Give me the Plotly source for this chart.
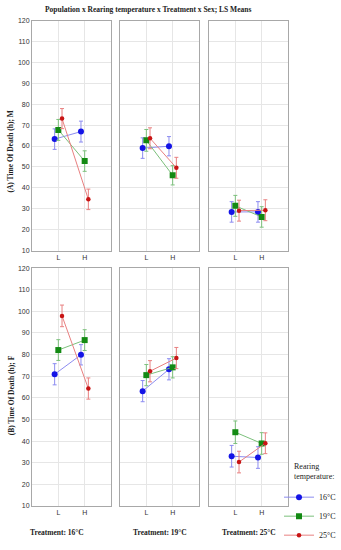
import plotly.graph_objects as go

categories = ["L", "H"]
rearing = ["16°C", "19°C", "25°C"]
treatments = ["Treatment: 16°C", "Treatment: 19°C", "Treatment: 25°C"]

# Males (A): per treatment [L, H]
male_r16 = [[63.3, 66.9], [59.0, 59.9], [28.5, 28.5]]
male_r19 = [[67.7, 52.8], [62.7, 46.0], [31.4, 26.1]]
male_r25 = [[73.1, 34.5], [63.7, 49.6], [29.1, 29.3]]
# Females (B)
female_r16 = [[70.9, 79.9], [63.1, 73.2], [33.0, 32.4]]
female_r19 = [[82.1, 86.7], [70.5, 74.1], [44.1, 38.9]]
female_r25 = [[97.9, 64.3], [72.3, 78.4], [30.3, 39.0]]
# standard errors
male_se = [[[4.9, 5.0], [4.9, 4.6], [4.9, 4.9]],
           [[5.0, 4.9], [5.2, 4.6], [5.0, 4.9]],
           [[4.8, 4.9], [5.0, 5.0], [5.0, 5.0]]]
female_se = [[[4.9, 4.7], [4.9, 4.9], [5.0, 5.0]],
             [[4.8, 4.8], [4.9, 4.9], [5.2, 5.0]],
             [[5.0, 4.9], [4.9, 4.9], [5.0, 4.8]]]

marker_colors = ["#1414e6", "#138a13", "#c81414"]
line_colors = ["#8c8cf0", "#7cc07c", "#e88080"]
symbols = ["circle", "square", "circle"]
sizes = [6, 6, 4.5]
offsets = [-0.14, 0.0, 0.14]

W, H = 341, 550
panel_x = [(32, 111), (120, 199), (209, 288)]
row_y = [(17, 254), (272, 517)]


def px(x):
    return x / W


def py(y):
    return 1 - y / H


fig = go.Figure()
layout = dict(width=W, height=H, margin=dict(l=0, r=0, t=0, b=0),
              plot_bgcolor="white", paper_bgcolor="white", showlegend=True,
              hovermode=False)

serif = "Liberation Serif"
sans = "Liberation Sans"

data_rows = [[male_r16, male_r19, male_r25], [female_r16, female_r19, female_r25]]
se_rows = [male_se, female_se]

idx = 0
for r in range(2):
    for c in range(3):
        idx += 1
        xa = "x" if idx == 1 else f"x{idx}"
        ya = "y" if idx == 1 else f"y{idx}"
        x0, x1 = panel_x[c]
        y0, y1 = row_y[r]
        layout["xaxis" if idx == 1 else f"xaxis{idx}"] = dict(
            domain=[px(x0), px(x1)], anchor=ya, range=[0, 3],
            tickvals=[1, 2], ticktext=categories, showgrid=True,
            gridcolor="#e6e6e6", gridwidth=1, zeroline=False,
            showline=True, mirror=True, linecolor="#a8a8a8", linewidth=1,
            ticks="", tickfont=dict(family=sans, size=7, color="#333"))
        layout["yaxis" if idx == 1 else f"yaxis{idx}"] = dict(
            domain=[py(y1), py(y0)], anchor=xa, range=[10, 120],
            tickvals=list(range(10, 121, 10)), showticklabels=(c == 0),
            showgrid=True, gridcolor="#e6e6e6", gridwidth=1, zeroline=False,
            showline=True, mirror=True, linecolor="#a8a8a8", linewidth=1,
            ticks="", tickfont=dict(family=sans, size=7, color="#333"))
        for s in range(3):
            vals = data_rows[r][s][c]
            errs = se_rows[r][s][c]
            fig.add_trace(go.Scatter(
                x=[1 + offsets[s], 2 + offsets[s]], y=vals,
                mode="lines+markers", xaxis=xa, yaxis=ya,
                name=rearing[s], legendgroup=rearing[s],
                showlegend=(idx == 1),
                line=dict(color=line_colors[s], width=1),
                marker=dict(color=marker_colors[s], symbol=symbols[s], size=sizes[s]),
                error_y=dict(type="data", array=errs, color=line_colors[s],
                             thickness=1, width=2)))

fig.update_layout(**layout)
fig.update_layout(legend=dict(
    x=px(279), y=py(493), xanchor="left", yanchor="top",
    font=dict(family=serif, size=8, color="#222"), bgcolor="rgba(0,0,0,0)",
    tracegroupgap=0, itemwidth=30))

ann = [
    dict(text="<b>Population x Rearing temperature x Treatment x Sex; LS Means</b>",
         x=px(148), y=py(6), font=dict(family=serif, size=7.5, color="#222")),
    dict(text="<b>(A) Time Of Death (h); M</b>", x=px(11), y=py(152),
         textangle=-90, font=dict(family=serif, size=7.5, color="#222")),
    dict(text="<b>(B) Time Of Death (h); F</b>", x=px(11), y=py(403),
         textangle=-90, font=dict(family=serif, size=7.5, color="#222")),
    dict(text="Rearing<br>temperature:", x=px(292), y=py(482), xanchor="left",
         align="left", font=dict(family=serif, size=8, color="#222")),
]
for cx, t in zip([57, 160, 249], treatments):
    ann.append(dict(text=f"<b>{t}</b>", x=px(cx), y=py(544),
                    font=dict(family=serif, size=7.5, color="#222")))
for a in ann:
    a.setdefault("xanchor", "center")
    a.update(xref="paper", yref="paper", showarrow=False, yanchor="middle")
fig.update_layout(annotations=ann)

fig.write_html("out.html", config={"displayModeBar": False, "staticPlot": True},
               post_script="document.body.style.margin='0px';document.body.style.padding='0px';")
